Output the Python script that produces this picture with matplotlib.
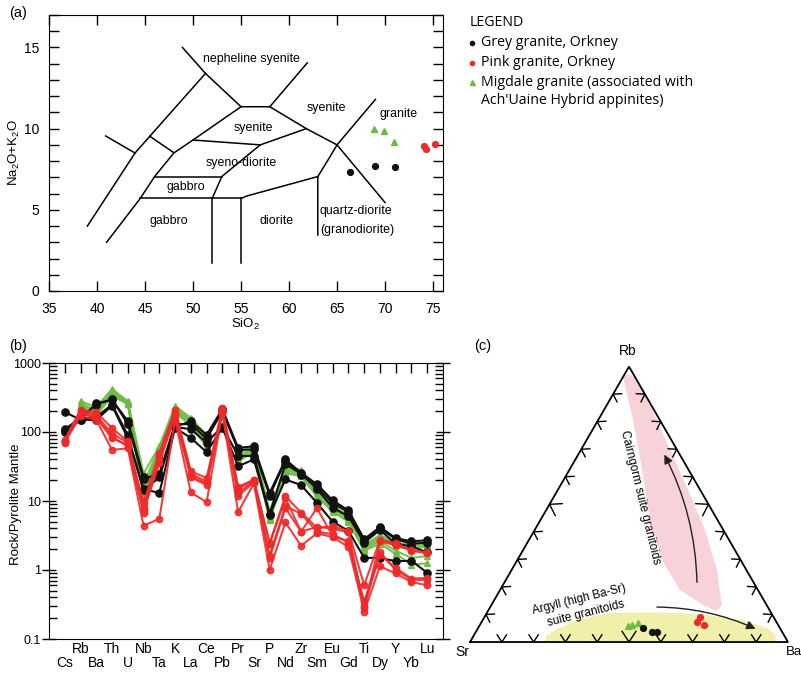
import numpy as np
import matplotlib
matplotlib.use('Agg')
import matplotlib.pyplot as plt
import matplotlib.transforms as mtransforms
from matplotlib.lines import Line2D
from matplotlib.patches import Polygon, FancyArrowPatch
from matplotlib.ticker import MultipleLocator, LogLocator, FixedLocator, NullFormatter

plt.rcParams['font.family'] = ['Liberation Sans', 'DejaVu Sans']
plt.rcParams['mathtext.fontset'] = 'custom'
plt.rcParams['mathtext.rm'] = 'Liberation Sans'
plt.rcParams['mathtext.it'] = 'Liberation Sans:italic'

BLACK = '#111111'
RED = '#EE2A2A'
GREEN = '#6DBB45'

# ---------------- data (a) TAS ----------------
grey_sio2 = [66.35, 68.95, 71.05]
grey_alk = [7.33, 7.72, 7.61]
pink_sio2 = [74.05, 74.25, 75.2]
pink_alk = [8.92, 8.72, 9.07]
migdale_sio2 = [68.85, 69.9, 70.95]
migdale_alk = [9.98, 9.84, 9.18]

# TAS field boundaries (SiO2, Na2O+K2O)
tas_lines = [
    [(39, 4), (43.96, 8.5), (45.5, 9.53), (51.3, 13.4)],
    [(48.9, 15.0), (51.3, 13.4), (55, 11.35), (58, 11.35), (61.9, 14.05)],
    [(58, 11.35), (61.8, 10.0), (65, 9.0), (70, 5.45)],
    [(69, 11.8), (65, 9.0), (64.3, 8.3), (63, 7.05), (63, 3.45)],
    [(63, 7.05), (55.6, 5.85), (55, 5.7)],
    [(44.5, 5.7), (55, 5.7)],
    [(52, 5.7), (52, 1.7)],
    [(55, 5.7), (55, 1.7)],
    [(52, 5.7), (53, 7.05), (57, 9.0), (61.8, 10.0)],
    [(46, 7.05), (53, 7.05)],
    [(50, 9.3), (57, 9.0)],
    [(41, 3.0), (44.5, 5.7), (46, 7.05), (48, 8.5), (50, 9.3), (55, 11.35)],
    [(40.9, 9.55), (43.96, 8.5)],
    [(45.5, 9.53), (47.95, 8.54)],
]
tas_labels = [
    ("nepheline syenite", 56.1, 14.3),
    ("syenite", 63.9, 11.3),
    ("syenite", 56.3, 10.05),
    ("granite", 71.4, 10.9),
    ("syeno-diorite", 55.0, 7.88),
    ("gabbro", 49.2, 6.4),
    ("gabbro", 47.5, 4.34),
    ("diorite", 58.7, 4.34),
    ("quartz-diorite", 67.0, 4.9),
    ("(granodiorite)", 67.1, 3.77),
]

# ---------------- data (b) spider ----------------
elements = ['Cs', 'Rb', 'Ba', 'Th', 'U', 'Nb', 'Ta', 'K', 'La', 'Ce', 'Pb', 'Pr',
            'Sr', 'P', 'Nd', 'Zr', 'Sm', 'Eu', 'Gd', 'Ti', 'Dy', 'Y', 'Yb', 'Lu']
nan = np.nan
grey_spider = [
    [195, 150, 260, 290, 145, 22, 23, 120, 142, 91, 215, 59, 62, 13, 40, 25.5, 17.5, 10.2, 7.3, 2.8, 4.2, 2.9, 2.6, 2.7],
    [108, 160, 250, 300, 130, 20.5, 25, 130, 130, 80, 200, 55, 56, 12, 38, 24, 16, 9.3, 7.0, 2.6, 4.0, 2.8, 2.4, 2.5],
    [100, 150, 150, 240, 81, 15, 13, 115, 82, 51, 115, 32, 40, 6.3, 20.5, 17, 9.4, 5.0, 3.7, 1.5, 1.5, 1.34, 1.36, 0.91],
    [110, 155, 165, 250, 90, 14.3, 22, 118, 110, 70, 120, 45, 45, 6.5, 34, 25, 15, 8.0, 6.0, 2.5, 3.8, 2.4, 2.2, 1.8],
]
pink_spider = [
    [77, 211, 193, 114, 73, 9.4, 50, 211, 27, 21.5, 223, 16, 20.4, 2.45, 11.7, 6.8, 4.1, 4.3, 3.7, 0.6, 2.75, 2.45, 1.93, 1.8],
    [70, 185, 160, 81, 65, 6.7, 40, 180, 23, 18, 200, 11.7, 19, 1.5, 7.9, 3.6, 7.9, 3.1, 2.6, 0.3, 1.66, 1.07, 0.75, 0.77],
    [72, 170, 150, 55, 58, 4.4, 5.5, 150, 13.3, 9.6, 190, 6.9, 18, 1.0, 4.9, 2.25, 3.4, 3.0, 2.15, 0.25, 1.13, 0.89, 0.67, 0.6],
    [75, 200, 175, 95, 70, 8.0, 45, 190, 25, 19, 210, 15, 20, 2.4, 11, 3.6, 4.2, 4.0, 3.5, 0.28, 2.6, 2.3, 1.9, 1.75],
    [73, 190, 165, 85, 62, 7.5, 35, 170, 22, 17, 205, 13, 19.5, 1.6, 8.5, 6.5, 3.6, 3.3, 2.5, 0.35, 1.8, 1.0, 0.72, 0.72],
]
migdale_spider = [
    [nan, 280, 230, 420, 280, 25, 62, 240, 160, 90, nan, 50, 65, 7.0, 33, 28, 15, 9.0, 6.5, 2.3, 3.2, 2.5, 2.3, 2.4],
    [nan, 260, 210, 390, 270, 18, 60, 220, 150, 80, nan, 46, 58, 6.3, 30, 26, 14, 8.5, 6.0, 2.2, 3.0, 2.4, 2.2, 2.3],
    [nan, 245, 200, 370, 265, 14, 58, 210, 140, 72, nan, 43, 55, 5.8, 28, 25, 13, 8.0, 5.5, 2.1, 2.8, 2.2, 2.0, 2.2],
    [nan, 230, 185, 350, 260, 12, 56, 200, 130, 65, nan, 40, 52, 5.5, 26, 24, 12, 7.5, 5.2, 2.0, 2.6, 1.9, 1.5, 1.6],
    [nan, 215, 175, 330, 255, 11, 55, 190, 125, 60, nan, 38, 50, 5.3, 25, 23, 11.5, 7.0, 5.0, 1.9, 2.4, 1.7, 1.2, 1.25],
]
spider_yticks = [0.1, 1, 10, 100, 1000]
spider_yticklabels = ['0.1', '1', '10', '100', '1000']

# ---------------- data (c) ternary Rb-Sr-Ba (fractions) ----------------
grey_rb = [0.051, 0.036, 0.036]
grey_ba = [0.519, 0.554, 0.570]
pink_rb = [0.073, 0.091, 0.062]
pink_ba = [0.677, 0.678, 0.705]
migdale_rb = [0.058, 0.062, 0.069]
migdale_ba = [0.468, 0.478, 0.494]

# field outlines in triangle units (x, y)
cairngorm_field = [(0.481, 0.833), (0.513, 0.698), (0.541, 0.541), (0.566, 0.384), (0.604, 0.258),
                   (0.660, 0.164), (0.733, 0.116), (0.777, 0.097), (0.792, 0.116), (0.777, 0.226),
                   (0.739, 0.352), (0.686, 0.478), (0.623, 0.619), (0.560, 0.761), (0.516, 0.833),
                   (0.497, 0.843)]
argyll_field = [(0.236, 0.0), (0.239, 0.019), (0.267, 0.038), (0.336, 0.069), (0.440, 0.091),
                (0.566, 0.094), (0.723, 0.088), (0.858, 0.069), (0.934, 0.044), (0.962, 0.022),
                (0.959, 0.0)]


def tern(rb, ba):
    rb = np.asarray(rb)
    ba = np.asarray(ba)
    return ba + rb / 2.0, rb * np.sqrt(3) / 2.0


W, H = 801, 677
fig = plt.figure(figsize=(W / 100, H / 100), dpi=100)


def rect(x0, y0, x1, y1):
    return [x0 / W, 1 - y1 / H, (x1 - x0) / W, (y1 - y0) / H]


# ================= (a) =================
ax1 = fig.add_axes(rect(49, 15, 443, 291))
for ln in tas_lines:
    xs, ys = zip(*ln)
    ax1.plot(xs, ys, color='black', lw=1.1, solid_joinstyle='miter', zorder=2)
for txt, x, y in tas_labels:
    ax1.text(x, y, txt, ha='center', va='center', fontsize=8.9, zorder=3)
ax1.plot(grey_sio2, grey_alk, 'o', color=BLACK, ms=4.2, zorder=4)
ax1.plot(pink_sio2, pink_alk, 'o', color=RED, ms=4.2, zorder=4)
ax1.plot(migdale_sio2, migdale_alk, '^', color=GREEN, ms=4.8, zorder=4)
ax1.set_xlim(35, 76.04)
ax1.set_ylim(0, 17)
ax1.set_xticks(range(35, 80, 5))
ax1.set_yticks([0, 5, 10, 15])
ax1.yaxis.set_minor_locator(MultipleLocator(1))
ax1.tick_params(which='both', direction='in', top=True, right=True, length=7, width=1, labelsize=10)
ax1.tick_params(axis='x', pad=8)
ax1.tick_params(axis='y', pad=7)
ax1.set_xlabel('SiO$_2$', fontsize=9.5)
ax1.xaxis.set_label_coords((245 - 49) / 394, -(317 - 291) / 276)
ax1.set_ylabel('Na$_2$O+K$_2$O', fontsize=9.5)
ax1.yaxis.set_label_coords(-(49 - 22) / 394, 0.5)
fig.text(18 / W, 1 - 13 / H, '(a)', ha='center', va='center', fontsize=10.5)

# ================= (b) =================
ax2 = fig.add_axes(rect(49, 363, 443, 639))
xpos = np.arange(1, len(elements) + 1)
for row in migdale_spider:
    ax2.plot(xpos, row, '-^', color=GREEN, ms=4.8, lw=1.5, alpha=0.9, zorder=2)
for row in grey_spider:
    ax2.plot(xpos, row, '-o', color=BLACK, ms=5.2, lw=1.5, zorder=3)
for row in pink_spider:
    ax2.plot(xpos, row, '-o', color=RED, ms=4.6, lw=1.5, alpha=0.9, zorder=4)
ax2.set_yscale('log')
ax2.set_ylim(0.1, 1000)
ax2.set_xlim(0, 25)
ax2.set_xticks(xpos)
ax2.set_xticklabels([])
ax2.tick_params(axis='x', direction='in', length=7, width=1, top=True, bottom=False)
btrans = mtransforms.blended_transform_factory(ax2.transData, ax2.transAxes)
for i, (xp, e) in enumerate(zip(xpos, elements)):
    yrow = -(649 - 639) / 276 if i % 2 == 1 else -(663 - 639) / 276
    ax2.text(xp, yrow, e, transform=btrans, ha='center', va='center', fontsize=10)
ax2.yaxis.set_major_locator(FixedLocator(spider_yticks))
ax2.set_yticklabels(spider_yticklabels, fontsize=9)
ax2.yaxis.set_minor_locator(LogLocator(base=10, subs=np.arange(2, 10)))
ax2.yaxis.set_minor_formatter(NullFormatter())
ax2.tick_params(axis='y', which='major', direction='inout', length=10, width=1, right=True, pad=1)
ax2.tick_params(axis='y', which='minor', direction='in', length=6, width=1, right=True)
ax2.set_ylabel('Rock/Pyrolite Mantle', fontsize=9.5)
ax2.yaxis.set_label_coords(-(49 - 22) / 394, 0.49)
fig.text(18 / W, 1 - 346 / H, '(b)', ha='center', va='center', fontsize=10.5)

# ================= (c) =================
ax3 = fig.add_axes([457.3 / W, 0, 343.4 / W, 337 / H])
ax3.set_xlim(-0.04, 1.04)
ax3.set_ylim(-0.11, 0.9497)
ax3.axis('off')
h = np.sqrt(3) / 2
ax3.add_patch(Polygon(cairngorm_field, closed=True, facecolor='#F7D3D9', edgecolor='none', zorder=1))
ax3.add_patch(Polygon(argyll_field, closed=True, facecolor='#F0F0AA', edgecolor='none', zorder=1))
ax3.plot([0, 1, 0.5, 0], [0, 0, h, 0], color='black', lw=1.3, zorder=3, solid_joinstyle='miter')

# chevron ticks on edges
edges = [((0, 0), (1, 0)), ((1, 0), (0.5, h)), ((0.5, h), (0, 0))]
for (x0, y0), (x1, y1) in edges:
    t = np.array([x1 - x0, y1 - y0])
    t = t / np.linalg.norm(t)
    n = np.array([-t[1], t[0]])
    for f in np.arange(1, 10) / 10.0:
        p = np.array([x0, y0]) + f * np.array([x1 - x0, y1 - y0])
        L = 0.04 if abs(f - 0.5) < 1e-6 else 0.027
        ang = np.deg2rad(33)
        a1 = p + L * (n * np.cos(ang) + t * np.sin(ang))
        a2 = p + L * (n * np.cos(ang) - t * np.sin(ang))
        ax3.plot([a1[0], p[0], a2[0]], [a1[1], p[1], a2[1]], color='black', lw=1.0, zorder=3)

ax3.add_patch(FancyArrowPatch((0.714, 0.179), (0.607, 0.597), connectionstyle='arc3,rad=0.12',
                              arrowstyle='-|>', mutation_scale=13, color='#222222', lw=1.0, zorder=4))
ax3.add_patch(FancyArrowPatch((0.579, 0.110), (0.906, 0.038), connectionstyle='arc3,rad=-0.11',
                              arrowstyle='-|>', mutation_scale=13, color='#222222', lw=1.0, zorder=4))
ax3.text(0.535, 0.456, 'Cairngorm suite granitoids', rotation=-76.3, rotation_mode='anchor',
         ha='center', va='center', fontsize=8.5, zorder=5)
ax3.text(0.344, 0.134, 'Argyll (high Ba-Sr)', rotation=14, rotation_mode='anchor',
         ha='center', va='center', fontsize=8.5, zorder=5)
ax3.text(0.366, 0.089, 'suite granitoids', rotation=14, rotation_mode='anchor',
         ha='center', va='center', fontsize=8.5, zorder=5)

gx, gy = tern(grey_rb, grey_ba)
px_, py_ = tern(pink_rb, pink_ba)
mx, my = tern(migdale_rb, migdale_ba)
ax3.plot(mx, my, '^', color=GREEN, ms=4.5, zorder=5)
ax3.plot(gx, gy, 'o', color=BLACK, ms=4.2, zorder=5)
ax3.plot(px_, py_, 'o', color=RED, ms=4.2, zorder=5)

ax3.text(0.497, h + 0.028, 'Rb', ha='center', va='bottom', fontsize=10)
ax3.text(-0.025, -0.03, 'Sr', ha='center', va='center', fontsize=10)
ax3.text(0.993, -0.03, 'Ba', ha='left', va='center', fontsize=9.5, clip_on=False)
fig.text(483 / W, 1 - 346 / H, '(c)', ha='center', va='center', fontsize=10.5)

# ================= legend =================
LEG_FONT = ['Open Sans', 'DejaVu Sans']
fig.text(470 / W, 1 - 23 / H, 'LEGEND', ha='left', va='center', fontsize=10.2, family=LEG_FONT)
legend_rows = [
    ('o', BLACK, 3.0, 'Grey granite, Orkney', 43),
    ('o', RED, 3.0, 'Pink granite, Orkney', 63),
    ('^', GREEN, 3.6, 'Migdale granite (associated with', 82),
]
for mk, col, ms, txt, y in legend_rows:
    fig.add_artist(Line2D([472 / W], [1 - y / H], marker=mk, color=col, ms=ms, ls='none',
                          transform=fig.transFigure))
    fig.text(481 / W, 1 - y / H, txt, ha='left', va='center', fontsize=10.2, family=LEG_FONT)
fig.text(481 / W, 1 - 101 / H, "Ach'Uaine Hybrid appinites)", ha='left', va='center',
         fontsize=10.2, family=LEG_FONT)

fig.savefig('out.png', dpi=100)
